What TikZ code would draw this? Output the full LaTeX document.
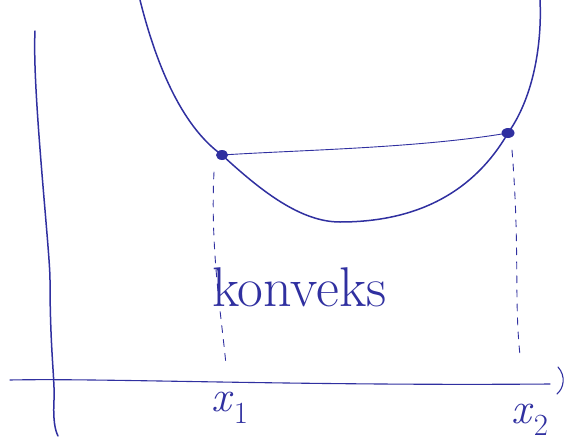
\documentclass[tikz,border=0pt]{standalone}
\usetikzlibrary{calc}
\definecolor{ink}{RGB}{48,48,160}
\begin{document}
\begin{tikzpicture}[x=1pt,y=-1pt,
  pen/.style={draw=ink,line width=1.5pt,line cap=round,line join=round},
  thinpen/.style={draw=ink,line width=0.9pt,line cap=round},
  guide/.style={draw=ink,line width=0.9pt,dash pattern=on 7pt off 7pt,line cap=round},
  lbl/.style={text=ink,inner sep=0pt}]
\useasboundingbox (0,0) rectangle (568,442);
% axes
\coordinate (vtop) at (35,31);
\coordinate (vbot) at (58,436);
\draw[pen] (vtop) .. controls (32,90) and (50,250) .. (50,280) .. controls (50,350) and (55,380) .. (54,400) .. controls (53,420) and (55,430) .. (vbot);
\coordinate (hl) at (10,380);
\coordinate (hr) at (550,384);
\draw[thinpen,line width=1.1pt] (hl) .. controls (100,378) and (300,386) .. (hr);
\draw[thinpen,line width=1.1pt] (558,367) .. controls (566,376) and (564,388) .. (557,394);
% curve
\coordinate (ctop1) at (140,0);
\coordinate (p1) at (222,155);
\coordinate (pmin) at (340,222);
\coordinate (p2) at (508,133);
\coordinate (ctop2) at (540,0);
\draw[pen] (ctop1) .. controls (155,60) and (180,125) .. (p1)
  .. controls (260,190) and (300,222) .. (pmin)
  .. controls (420,222) and (475,190) .. (p2)
  .. controls (535,95) and (542,40) .. (ctop2);
% chord
\draw[thinpen] (p1) .. controls (300,150) and (420,148) .. (p2);
\fill[ink] (p1) ellipse (6pt and 5pt);
\fill[ink] (p2) ellipse (6.5pt and 5pt);
% guides
\coordinate (g1a) at (214,172);
\coordinate (g1b) at (226,365);
\coordinate (g2a) at (512,150);
\coordinate (g2b) at (520,355);
\draw[guide] (g1a) .. controls (210,250) and (222,320) .. (g1b);
\draw[guide] (g2a) .. controls (520,250) and (514,300) .. (g2b);
% labels
\node[lbl,font=\fontsize{56}{56}\selectfont,anchor=west] (konv) at (212,287) {konveks};
\node[lbl,font=\fontsize{44}{44}\selectfont] (x1) at (230,408) {\textit{x}\textsubscript{1}};
\node[lbl,font=\fontsize{44}{44}\selectfont] (x2) at (530,420) {\textit{x}\textsubscript{2}};
\end{tikzpicture}
\end{document}
